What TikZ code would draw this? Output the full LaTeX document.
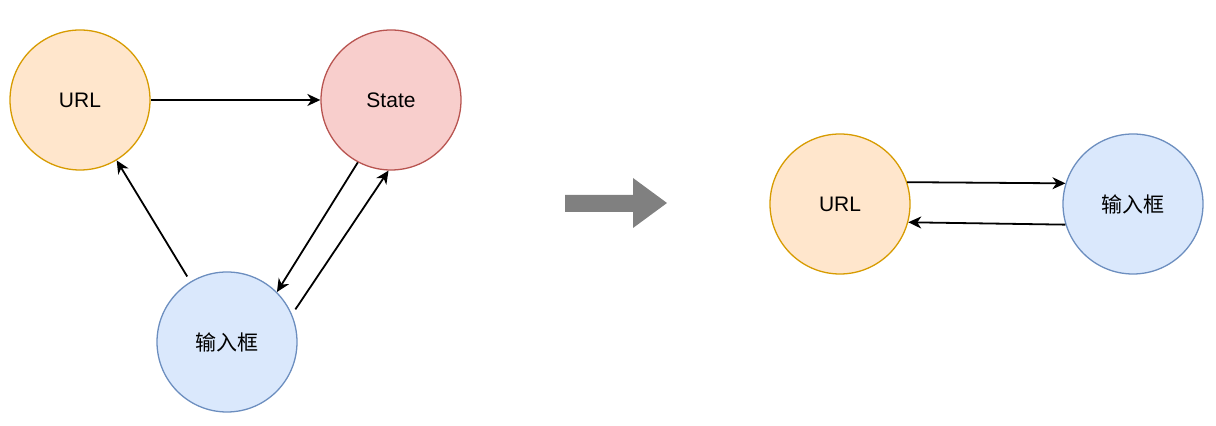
\documentclass[tikz,border=0pt]{standalone}
\usepackage{fontspec}
\setmainfont{Liberation Sans}
\newfontfamily\cjkfont{Noto Sans CJK SC}
\usepackage{tikz}
\usetikzlibrary{arrows.meta}

\definecolor{urlfill}{HTML}{FFE6CC}
\definecolor{urlline}{HTML}{D79B00}
\definecolor{statefill}{HTML}{F8CECC}
\definecolor{stateline}{HTML}{B85450}
\definecolor{inputfill}{HTML}{DAE8FC}
\definecolor{inputline}{HTML}{6C8EBF}
\definecolor{bigarrow}{HTML}{808080}

\begin{document}
\begin{tikzpicture}[x=0.5pt, y=-0.5pt,
        ball/.style={circle, minimum size=70pt, inner sep=0pt, line width=0.65pt, font=\fontsize{10.5}{12}\selectfont},
        flow/.style={line width=0.9pt, -{Stealth[length=6.5pt, width=6pt, inset=2pt]}}]

        \def\gap{3pt}

        \useasboundingbox (0, 0) rectangle (1216, 426);

        % before
        \node[ball, fill=urlfill, draw=urlline] (url) at (80, 100) {URL};
        \node[ball, fill=statefill, draw=stateline] (state) at (391, 100) {State};
        \node[ball, fill=inputfill, draw=inputline] (input) at (227, 342) {\cjkfont 输入框};

        \draw[flow] (url) -- (state);
        \draw[flow, shorten <=\gap] (input) -- (url);
        \draw[flow] (state.242) -- (input.45);
        \draw[flow, shorten <=\gap] (input.23) -- (state.268);

        % big grey arrow
        \fill[bigarrow] (565, 195) -- (633, 195) -- (633, 178) -- (667, 203)
            -- (633, 228) -- (633, 212) -- (565, 212) -- cycle;

        % after
        \node[ball, fill=urlfill, draw=urlline] (url2) at (840, 204) {URL};
        \node[ball, fill=inputfill, draw=inputline] (input2) at (1133, 204) {\cjkfont 输入框};

        \draw[flow] (url2.18) -- (input2.163);
        \draw[flow] (input2.197) -- (url2.345);

    \end{tikzpicture}
\end{document}
